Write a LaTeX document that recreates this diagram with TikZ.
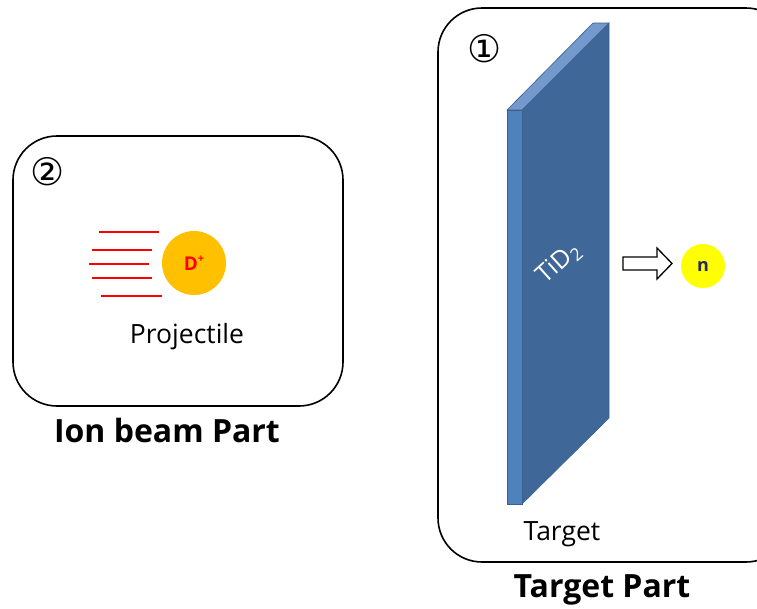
\documentclass[tikz,border=0pt]{standalone}
\usepackage{fontspec}
\setmainfont{Open Sans}
\newfontfamily\symfont{DejaVu Sans}
\definecolor{slabfront}{RGB}{79,129,189}
\definecolor{slabside}{RGB}{63,103,151}
\definecolor{slabtop}{RGB}{115,153,205}
\definecolor{slabedge}{RGB}{60,96,140}
\definecolor{ionorange}{RGB}{255,192,0}
\definecolor{neutronyellow}{RGB}{255,255,0}
\definecolor{navy}{RGB}{31,40,96}
\begin{document}
\begin{tikzpicture}[x=1pt,y=-1pt,
  panel/.style={draw=black, line width=1.6pt, rounded corners=44pt},
  caption/.style={font=\fontsize{26.5}{30}\selectfont, inner sep=0pt, anchor=base},
  parttitle/.style={font=\fontsize{32}{36}\selectfont\bfseries, inner sep=0pt, anchor=base},
  marker/.style={font=\symfont\fontsize{38}{40}\selectfont, inner sep=0pt},
  trail/.style={draw=red, line width=1.3pt},
  face/.style={draw=slabedge, line width=0.6pt}]
\clip (0,0) rectangle (757,608);
\fill[white] (0,0) rectangle (757,608);

% ---------- ion beam panel ----------
\draw[panel] (13,136) rectangle (343,406);
\node[marker] (two) at (48,172) {②};
\foreach \xa/\xb/\yy [count=\i] in {99/159/232, 92/152/250, 89/149/264, 92/152/278, 101/162/296}{
  \coordinate (t\i a) at (\xa,\yy);
  \coordinate (t\i b) at (\xb,\yy);
  \draw[trail] (t\i a) -- (t\i b);
}
\node[circle, fill=ionorange, minimum size=64pt, inner sep=0pt,
      font=\fontsize{19}{21}\selectfont\bfseries, text=red] (deut) at (194,263)
      {D\raisebox{0.42em}{\fontsize{11}{11}\selectfont +}};
\node[caption] (proj) at (187,343) {Projectile};
\node[parttitle] (ionlabel) at (167,442) {Ion beam Part};

% ---------- target panel ----------
\draw[panel] (438,8) rectangle (790,562);
\node[marker] (one) at (485,49) {①};

% slab
\coordinate (A) at (507,110);
\coordinate (B) at (522,110);
\coordinate (C) at (522,504);
\coordinate (D) at (507,504);
\coordinate (E) at (593,23);
\coordinate (F) at (609,23);
\coordinate (G) at (609,418);
\fill[slabside, face] (B) -- (F) -- (G) -- (C) -- cycle;
\fill[slabtop, face] (A) -- (E) -- (F) -- (B) -- cycle;
\fill[slabfront, face] (A) -- (B) -- (C) -- (D) -- cycle;
\node[text=white, rotate=42, font=\fontsize{25}{27}\selectfont, inner sep=0pt]
      (tid) at (559,263) {TiD\textsubscript{2}};

% outgoing neutron
\coordinate (arr) at (623,263.5);
\draw[line width=1.3pt, fill=white, line join=miter]
  (arr) ++(0,-6.5) -- ++(34,0) -- ++(0,-9) -- ++(15,15.5) -- ++(-15,15.5)
  -- ++(0,-9) -- ++(-34,0) -- cycle;
\node[circle, fill=neutronyellow, minimum size=44pt, inner sep=0pt,
      font=\fontsize{18}{20}\selectfont\bfseries, text=navy] (neutron) at (703,266) {n};

\node[caption] (targetcap) at (562,540) {Target};
\node[parttitle] (targetlabel) at (602,597) {Target Part};
\end{tikzpicture}
\end{document}
